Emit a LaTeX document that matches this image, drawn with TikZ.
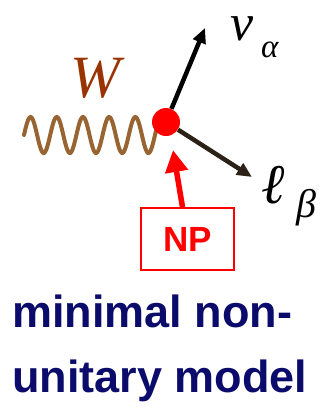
\documentclass[tikz,border=0pt]{standalone}
\usepackage{fontspec}
\setmainfont{Liberation Serif}
\newfontfamily\arialfont{Liberation Sans}
\usepackage{xcolor}
\definecolor{cWave}{HTML}{986532}
\definecolor{cWlab}{HTML}{993300}
\definecolor{cRed}{HTML}{FF0000}
\definecolor{cLep}{HTML}{2B2116}
\definecolor{cNavy}{HTML}{0B0B6B}
\usepackage{tikz}
\usetikzlibrary{positioning,arrows.meta,backgrounds}
\tikzset{
  node-vtx/.style={circle,fill=cRed,minimum size=28pt,inner sep=0pt},
  node-np/.style={draw=cRed,line width=1.8pt,minimum width=93pt,minimum height=62pt,
    inner sep=0pt,text=cRed,font=\arialfont\bfseries\fontsize{35}{40}\selectfont},
  node-lab/.style={inner sep=0pt,anchor=base west},
  node-title/.style={inner sep=0pt,anchor=base west,text=cNavy,
    font=\arialfont\bfseries\fontsize{45}{52}\selectfont},
  wave/.style={draw=cWave,line width=4pt,line cap=round},
  arrow-nu/.style={-{Triangle[length=15pt,width=13pt]},line width=4.5pt,draw=black},
  arrow-lep/.style={-{Triangle[length=15pt,width=13pt]},line width=4.5pt,draw=cLep},
  arrow-np/.style={-{Triangle[length=22pt,width=22pt]},line width=5.5pt,draw=cRed},
}

\begin{document}
\begin{tikzpicture}[x=1pt,y=-1pt]
  \useasboundingbox (0,0) rectangle (322,407);
  \node[node-vtx] (vtx) at (166,122) {};
  \coordinate (wstart) at (24,135);
  \coordinate (nutip) at (205,28);
  \coordinate (leptip) at (252,177);
  \coordinate (nptip) at (173,150);
  \node[node-np] (np) at (187.5,239) {NP};
  \begin{scope}[on background layer]
    % W line: 5 periods from wstart into the vertex (13.74 = 360/26.2)
    \draw[wave,shift={(wstart)}] plot[domain=0:134,samples=160,smooth]
      (\x,{-18*sin(\x*13.74)});
    \draw[arrow-nu] (vtx) -- (nutip);
    \draw[arrow-lep] (vtx) -- (leptip);
  \end{scope}
  \draw[arrow-np] ([xshift=-5pt]np.north) -- (nptip);
  % labels
  \node[node-lab,text=cWlab,font=\itshape\fontsize{60}{60}\selectfont] (wlab) at (70,97) {W};
  \node[node-lab,font=\itshape\fontsize{52}{52}\selectfont] (nulab) at (230,40) {ν};
  \node[node-lab,font=\itshape\fontsize{33}{33}\selectfont] (alab) at (261,57) {α};
  \node[node-lab,font=\itshape\fontsize{56}{56}\selectfont] (llab) at (261,203) {ℓ};
  \node[node-lab,font=\itshape\fontsize{40}{40}\selectfont] (blab) at (296,217) {β};
  % caption
  \node[node-title] (cap1) at (12,327) {minimal non-};
  \node[node-title] (cap2) at (12,392) {unitary model};
\end{tikzpicture}
\end{document}
